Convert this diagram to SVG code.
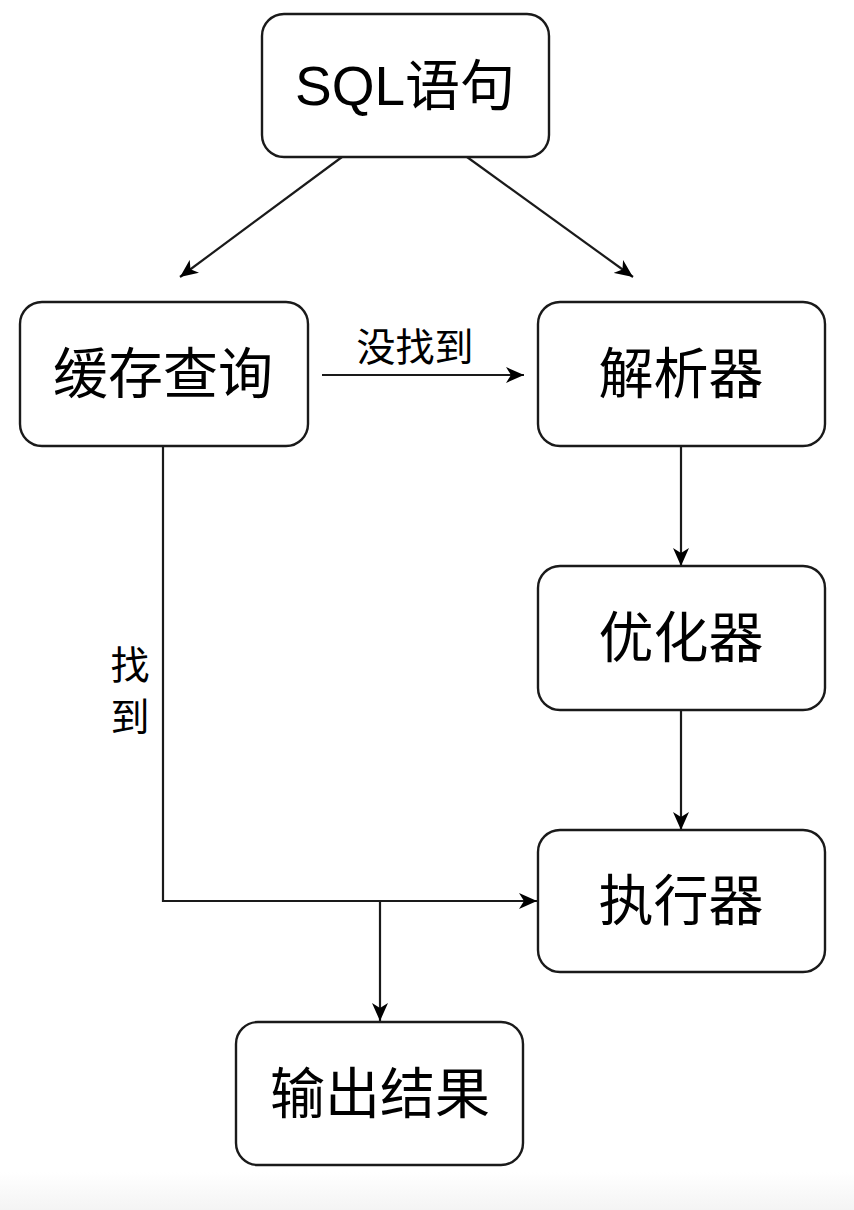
<svg xmlns="http://www.w3.org/2000/svg" width="854" height="1210" viewBox="0 0 854 1210">
<style>
.node rect{fill:#fff;stroke:#1a1a1a;stroke-width:2.4}
.node text{font-family:"Liberation Sans","Noto Sans CJK SC",sans-serif;font-size:55px;fill:#000;text-anchor:middle;dominant-baseline:central}
.lbl{font-family:"Noto Sans CJK SC",sans-serif;font-size:39px;fill:#000;text-anchor:middle;dominant-baseline:central}
.edge{fill:none;stroke:#1a1a1a;stroke-width:2.2;marker-end:url(#arr)}
</style>
<defs>
<marker id="arr" markerUnits="userSpaceOnUse" markerWidth="20" markerHeight="16" refX="18" refY="8" orient="auto">
<path d="M0,0 L18,8 L0,16 L5,8 z" fill="#000"/>
</marker>
<linearGradient id="fade" x1="0" y1="0" x2="0" y2="1">
<stop offset="0" stop-color="#fff"/>
<stop offset="1" stop-color="#f4f4f4"/>
</linearGradient>
</defs>
<rect x="0" y="0" width="854" height="1210" fill="#fff"/>
<rect x="0" y="1172" width="854" height="38" fill="url(#fade)"/>
<g id="connectors">
<path class="edge" d="M342,157 L180,277"/>
<path class="edge" d="M467,157 L633,277"/>
<path class="edge" d="M322,375 L524,375"/>
<path class="edge" d="M681,446 L681,566"/>
<path class="edge" d="M681,710 L681,830"/>
<path class="edge" d="M163,446 L163,901 L537,901"/>
<path class="edge" d="M380,901 L380,1021"/>
<text class="lbl" x="415" y="344">没找到</text>
<text class="lbl" x="130" y="662">找</text>
<text class="lbl" x="130" y="714">到</text>
</g>
<g id="sql" class="node"><rect x="262" y="14" width="287" height="143" rx="22"/><text x="405" y="86">SQL语句</text></g>
<g id="cache" class="node"><rect x="20" y="302" width="288" height="144" rx="22"/><text x="163" y="374">缓存查询</text></g>
<g id="parser" class="node"><rect x="538" y="302" width="287" height="144" rx="22"/><text x="681" y="374">解析器</text></g>
<g id="optimizer" class="node"><rect x="538" y="566" width="287" height="144" rx="22"/><text x="681" y="638">优化器</text></g>
<g id="executor" class="node"><rect x="538" y="830" width="287" height="142" rx="22"/><text x="681" y="901">执行器</text></g>
<g id="output" class="node"><rect x="236" y="1022" width="287" height="143" rx="22"/><text x="380" y="1094">输出结果</text></g>
</svg>
